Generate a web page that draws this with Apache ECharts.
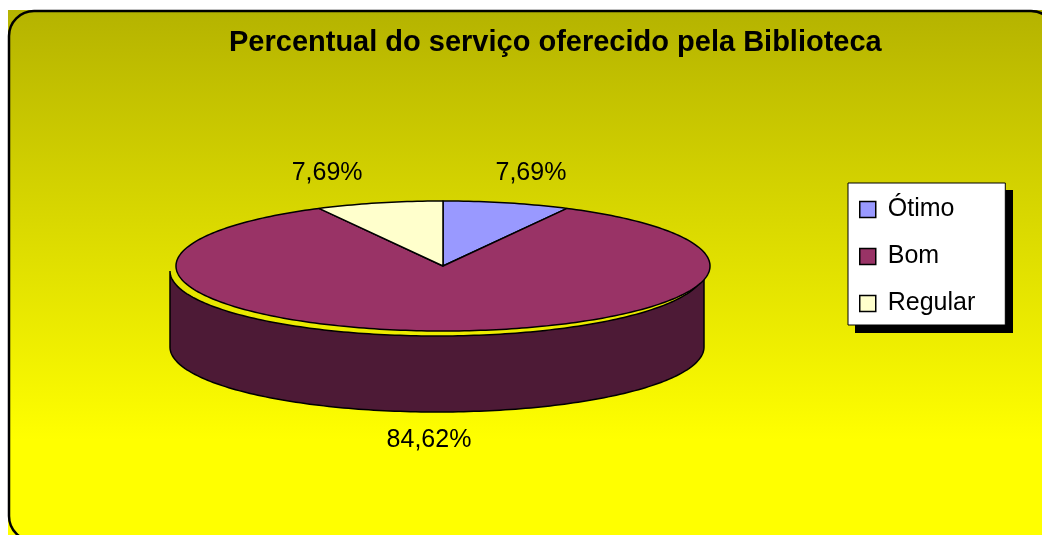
<!DOCTYPE html>
<html>
<head>
<meta charset="utf-8">
<script src="https://cdn.jsdelivr.net/npm/echarts@6/dist/echarts.min.js"></script>
<style>
html,body{margin:0;padding:0;background:#fff;}
#chart{width:1042px;height:535px;}
</style>
</head>
<body>
<div id="chart"></div>
<script>
// dados do grafico
var categorias = ['Ótimo', 'Bom', 'Regular'];
var valores = [7.69, 84.62, 7.69];
var rotulos = ['7,69%', '84,62%', '7,69%'];
var cores = ['#9999FF', '#993366', '#FFFFCC'];
var corLateral = '#4D1A36';

var FONTE = '"Liberation Sans", Arial, sans-serif';

// pizza 3d (elipse)
var topo = {cx: 443, cy: 266, rx: 267, ry: 65};
var lado = {cx: 437, cy: 271, rx: 267, ry: 65, prof: 76};
var rot = {cx: 429, cy: 267, rx: 426, ry: 97};

var total = valores.reduce(function (a, b) { return a + b; }, 0);

function ponto(e, a, dy) {
    return [e.cx + e.rx * Math.sin(a), e.cy - e.ry * Math.cos(a) + (dy || 0)];
}

function arco(e, a0, a1, dy) {
    var pts = [];
    var n = Math.max(2, Math.ceil(Math.abs(a1 - a0) / 0.02));
    for (var k = 0; k <= n; k++) {
        pts.push(ponto(e, a0 + (a1 - a0) * k / n, dy));
    }
    return pts;
}

function desenhaFatia(idx) {
    return function (params, api) {
        var v = api.value(0);
        var antes = 0;
        for (var j = 0; j < idx; j++) antes += valores[j];
        var a0 = antes / total * Math.PI * 2;
        var a1 = (antes + v) / total * Math.PI * 2;
        var filhos = [];

        // lateral visivel (metade da frente)
        var s = Math.max(a0, Math.PI / 2), f = Math.min(a1, Math.PI * 3 / 2);
        if (f > s) {
            var cima = arco(lado, s, f, 0);
            var baixo = arco(lado, f, s, lado.prof);
            filhos.push({type: 'polygon', z2: 1, silent: true,
                shape: {points: cima.concat(baixo)},
                style: {fill: corLateral, stroke: '#000', lineWidth: 1.5}});
        }

        // topo
        var pts = [[topo.cx, topo.cy]].concat(arco(topo, a0, a1, 0));
        filhos.push({type: 'polygon', z2: 2, silent: true,
            shape: {points: pts},
            style: {fill: cores[idx], stroke: '#000', lineWidth: 1.5, lineJoin: 'round'}});

        // rotulo
        var m = (a0 + a1) / 2;
        var p = ponto(rot, m, Math.cos(m) < 0 ? lado.prof : 0);
        filhos.push({type: 'text', z2: 3, silent: true,
            style: {x: p[0], y: p[1], text: rotulos[idx], fill: '#000',
                font: '25px ' + FONTE, align: 'center', verticalAlign: 'middle'}});

        return {type: 'group', children: filhos};
    };
}

var grafico = document.getElementById('chart');
var myChart = echarts.init(grafico, null, {renderer: 'canvas'});

var series = [];
for (var i = 0; i < categorias.length; i++) {
    series.push({name: categorias[i], type: 'custom', coordinateSystem: 'none',
        data: [valores[i]], itemStyle: {color: cores[i]}, renderItem: desenhaFatia(i),
        emphasis: {disabled: true}, animation: false});
}

option = {
    animation: false,
    graphic: [
        {type: 'rect', z: -10, silent: true, shape: {x: 8, y: 10, width: 1034, height: 525},
            style: {fill: new echarts.graphic.LinearGradient(0, 0, 0, 1, [
                {offset: 0, color: '#B5B300'}, {offset: 0.82, color: '#FFFF00'}, {offset: 1, color: '#FFFF00'}])}},
        {type: 'rect', z: -9, silent: true, shape: {x: 9, y: 11, width: 1047, height: 530, r: 25},
            style: {fill: null, stroke: '#000', lineWidth: 2.5}},
        // sombra da legenda
        {type: 'rect', z: -8, silent: true, shape: {x: 855, y: 190, width: 158, height: 143},
            style: {fill: '#000'}}
    ],
    title: {text: 'Percentual do serviço oferecido pela Biblioteca', left: 229, top: 28, padding: 0,
        textStyle: {fontFamily: FONTE, fontSize: 29, fontWeight: 'bold', color: '#000'}},
    legend: {data: categorias, orient: 'vertical', left: 848, top: 183, icon: 'rect',
        itemWidth: 16, itemHeight: 16, itemGap: 22, padding: [14, 30, 9, 11],
        backgroundColor: '#fff', borderColor: '#000', borderWidth: 1,
        itemStyle: {borderColor: '#000', borderWidth: 1.5},
        textStyle: {fontFamily: FONTE, fontSize: 25, color: '#000', padding: [0, 0, 0, 7]},
        selectedMode: false},
    series: series
};

myChart.setOption(option);
</script>
</body>
</html>
